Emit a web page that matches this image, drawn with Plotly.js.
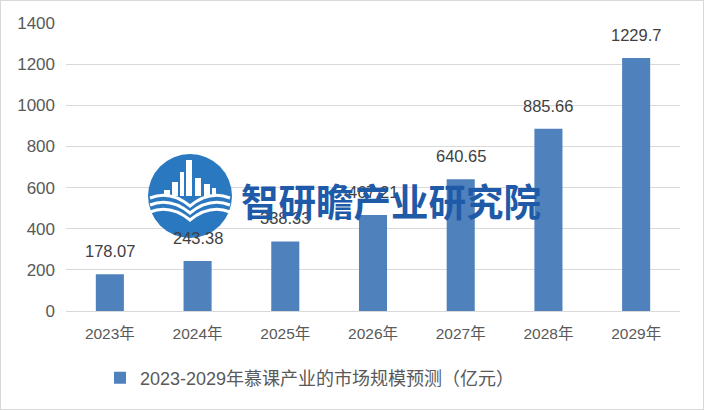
<!DOCTYPE html>
<html><head><meta charset="utf-8">
<script src="https://cdn.plot.ly/plotly-3.0.1.min.js"></script>
<style>html,body{margin:0;padding:0;background:#fff;}#chart{width:702px;height:408px;border:1px solid #d9d9d9;}</style>
</head><body><div id="chart"></div>
<script>
var categories = ["2023年","2024年","2025年","2026年","2027年","2028年","2029年"];
var values = [178.07, 243.38, 338.33, 467.21, 640.65, 885.66, 1229.7];
var labels = ["178.07","243.38","338.33","467.21","640.65","885.66","1229.7"];
var seriesName = "2023-2029年慕课产业的市场规模预测（亿元）";
var watermark = "智研瞻产业研究院";

var L=65, R=23, T=22, B=98, W=702, H=408;
var pw=W-L-R, ph=H-T-B;
function px(x){return (x-1-L)/pw;}
function py(y){return (H+1-B-y)/ph;}

var trace = {type:'bar', x:categories, y:values, name:seriesName,
  marker:{color:'#4f81bd'}, showlegend:true, hoverinfo:'none'};

var ann = categories.map(function(c,i){return {x:c,y:values[i],text:labels[i],xref:'x',yref:'y',
  showarrow:false,yanchor:'middle',yshift:23,font:{family:'"Liberation Sans", sans-serif',size:16.5,color:'#404040'}};});
ann.push({xref:'paper',yref:'paper',x:px(239),y:py(200),xanchor:'left',yanchor:'middle',showarrow:false,
  text:'<b>'+watermark+'</b>',font:{family:'"Noto Sans CJK SC", sans-serif',size:37.5,color:'#1e5aa8'}});

var cx=190, cy=196, r=42;
var shapes=[{type:'circle',xref:'paper',yref:'paper',x0:px(cx-r),x1:px(cx+r),y0:py(cy+r),y1:py(cy-r),
  fillcolor:'#2a78c0',line:{width:0},layer:'above'}];
var bars=[[164,190,170],[172,182,178],[180,172,184],[186,160,192],[195,178,201],[204,184,210],[212,188,216]];
bars.forEach(function(b){shapes.push({type:'rect',xref:'paper',yref:'paper',x0:px(b[0]),x1:px(b[2]),y0:py(196),y1:py(b[1]),fillcolor:'#ffffff',line:{width:0},layer:'above'});});
[0,7,14].forEach(function(d){
  var p='M '+px(150)+','+py(198+d)+' Q '+px(170)+','+py(190+d)+' '+px(190)+','+py(206+d)+' Q '+px(210)+','+py(190+d)+' '+px(230)+','+py(198+d);
  shapes.push({type:'path',xref:'paper',yref:'paper',path:p,line:{color:'#ffffff',width:3},layer:'above'});
});

var layout = {width:W,height:H,margin:{l:L,r:R,t:T,b:B},paper_bgcolor:'#fff',plot_bgcolor:'#fff',
  bargap:0.68,
  font:{family:'"Liberation Sans", "Noto Sans CJK SC", sans-serif',color:'#595959'},
  xaxis:{type:'category',showgrid:false,showline:true,linecolor:'#d9d9d9',linewidth:1,ticks:'',
    tickfont:{size:15.5,color:'#595959',family:'"Liberation Sans", "Noto Sans CJK SC", sans-serif'},ticklabelstandoff:8},
  yaxis:{range:[0,1400],dtick:200,showgrid:true,gridcolor:'#d9d9d9',gridwidth:1,zeroline:false,showline:false,ticks:'',
    tickfont:{size:17,color:'#595959',family:'"Liberation Sans", sans-serif'},ticklabelstandoff:10},
  showlegend:true,
  legend:{orientation:'h',x:px(100),y:py(378),xanchor:'left',yanchor:'middle',
    font:{size:18,color:'#595959',family:'"Liberation Sans", "Noto Sans CJK SC", sans-serif'},itemwidth:30},
  annotations:ann, shapes:shapes};
Plotly.newPlot('chart',[trace],layout,{staticPlot:true});
</script></body></html>
